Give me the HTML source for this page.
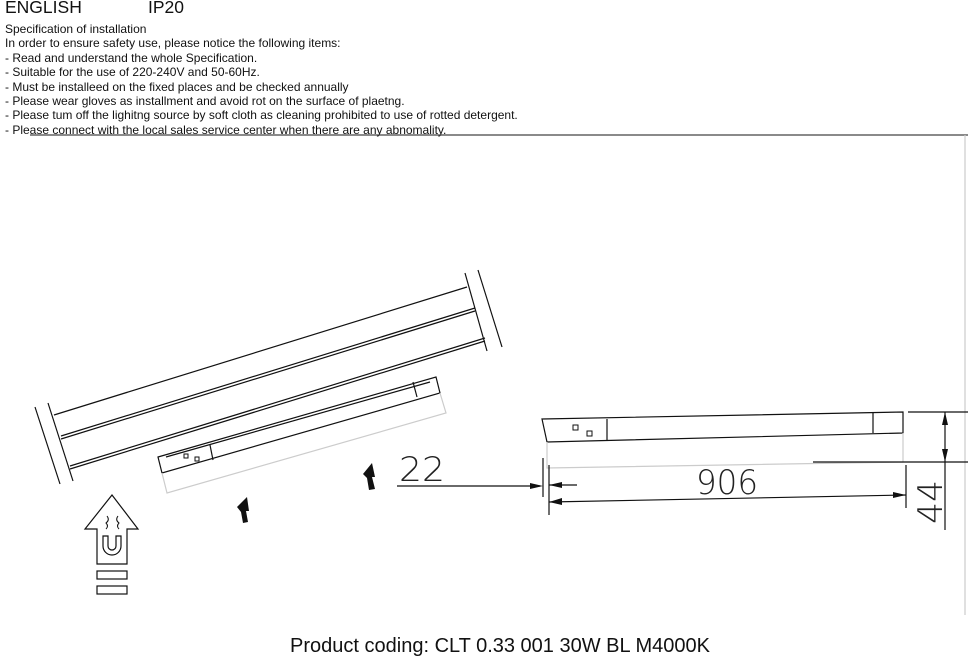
<!DOCTYPE html>
<html><head><meta charset="utf-8"><style>
body{margin:0;width:968px;height:664px;background:#fff;overflow:hidden;position:relative;font-family:"Liberation Sans",sans-serif;color:#111}
.t{position:absolute;left:5px;font-size:12px;line-height:14.4px;white-space:nowrap}
</style></head><body>
<div style="position:absolute;left:5px;top:-3px;font-size:17.5px">ENGLISH</div>
<div style="position:absolute;left:148px;top:-3px;font-size:17.5px">IP20</div>
<div class="t" style="top:22px">Specification of installation<br>In order to ensure safety use, please notice the following items:<br>- Read and understand the whole Specification.<br>- Suitable for the use of 220-240V and 50-60Hz.<br>- Must be installeed on the fixed places and be checked annually<br>- Please wear gloves as installment and avoid rot on the surface of plaetng.<br>- Please tum off the lighitng source by soft cloth as cleaning prohibited to use of rotted detergent.<br>- Please connect with the local sales service center when there are any abnomality.</div>
<svg width="968" height="664" style="position:absolute;left:0;top:0" xmlns="http://www.w3.org/2000/svg">
<g stroke="#111" fill="none" stroke-width="1.2">
<line x1="30" y1="135" x2="968" y2="135" stroke="#444"/>
<line x1="965" y1="135" x2="965" y2="615" stroke="#ccc"/>
<line x1="54" y1="415" x2="467" y2="287"/>
<line x1="61" y1="436" x2="475" y2="308"/><line x1="61" y1="439" x2="475" y2="311"/>
<line x1="70" y1="466" x2="485" y2="338"/><line x1="70" y1="469" x2="485" y2="341"/>
<line x1="35" y1="407" x2="60" y2="484"/><line x1="48" y1="403" x2="73" y2="481"/>
<line x1="465" y1="273" x2="487" y2="351"/><line x1="478" y1="270" x2="502" y2="347"/>
<polygon points="158,457 436,377 440,393 162,473"/>
<line x1="166" y1="457" x2="430" y2="382"/>
<line x1="210" y1="445" x2="213" y2="460"/><line x1="413" y1="382" x2="417" y2="397"/>
<polyline points="162,473 167,493 446,413 440,393" stroke="#ccc"/>
<rect x="184" y="454" width="4" height="4" stroke-width="1"/><rect x="195" y="457" width="4" height="4" stroke-width="1"/>
<polygon points="112,495 138,529 127,529 127,564 97,564 97,529 85,529"/>
<rect x="97" y="571" width="30" height="8"/><rect x="97" y="586" width="30" height="8"/>
<path d="M103,536 v10 a9,9 0 0 0 18,0 v-10 h-5 v10 a4,4 0 0 1 -8,0 v-10 z"/>
<path d="M107,516 q3,4 -1,7 q3,3 0,6 M118,516 q-3,4 1,7 q-3,3 0,6" stroke-width="1"/>
<polygon points="542,419 903,412 903,433 547,442"/>
<line x1="607" y1="419" x2="607" y2="440"/><line x1="873" y1="412" x2="873" y2="433"/>
<polyline points="547,442 547,468 903,462 903,433" stroke="#ccc"/>
<rect x="573" y="425" width="5" height="5" stroke-width="1"/><rect x="587" y="431" width="5" height="5" stroke-width="1"/>
<line x1="397" y1="486" x2="540" y2="486"/>
<line x1="543" y1="458" x2="543" y2="497"/><line x1="549" y1="465" x2="549" y2="515"/>
<line x1="549" y1="485" x2="577" y2="485"/>
<line x1="906" y1="465" x2="906" y2="508"/>
<line x1="549" y1="502" x2="906" y2="495"/>
<line x1="908" y1="412" x2="968" y2="412"/><line x1="813" y1="462" x2="968" y2="462"/>
<line x1="945" y1="412" x2="945" y2="530"/>
</g>
<g fill="#111">
<polygon points="543,486 530,483 530,489"/>
<polygon points="549,485 562,482 562,488"/>
<polygon points="549,502 562,498 562,505"/>
<polygon points="906,495 893,492 893,498"/>
<polygon points="945,412 942,425 948,425"/>
<polygon points="945,462 942,449 948,449"/>
<polygon points="237,507 247,497 249,511 246,511 248,522 243,523 241,512"/>
<polygon points="363,474 372,463 375,477 372,477 375,489 369,490 367,478"/>
</g>
<g font-family="DejaVu Sans,Liberation Sans,sans-serif" font-weight="200" fill="#222">
<text x="399" y="481" font-size="34" textLength="46" lengthAdjust="spacingAndGlyphs">22</text>
<text x="696" y="494" font-size="34" textLength="62" lengthAdjust="spacingAndGlyphs">906</text>
<text transform="translate(942,524) rotate(-90)" font-size="34" textLength="44" lengthAdjust="spacingAndGlyphs">44</text>
</g>
<text x="500" y="652" text-anchor="middle" font-family="Liberation Sans,sans-serif" font-size="20" fill="#111">Product coding: CLT 0.33 001 30W BL M4000K</text>
</svg>
</body></html>
